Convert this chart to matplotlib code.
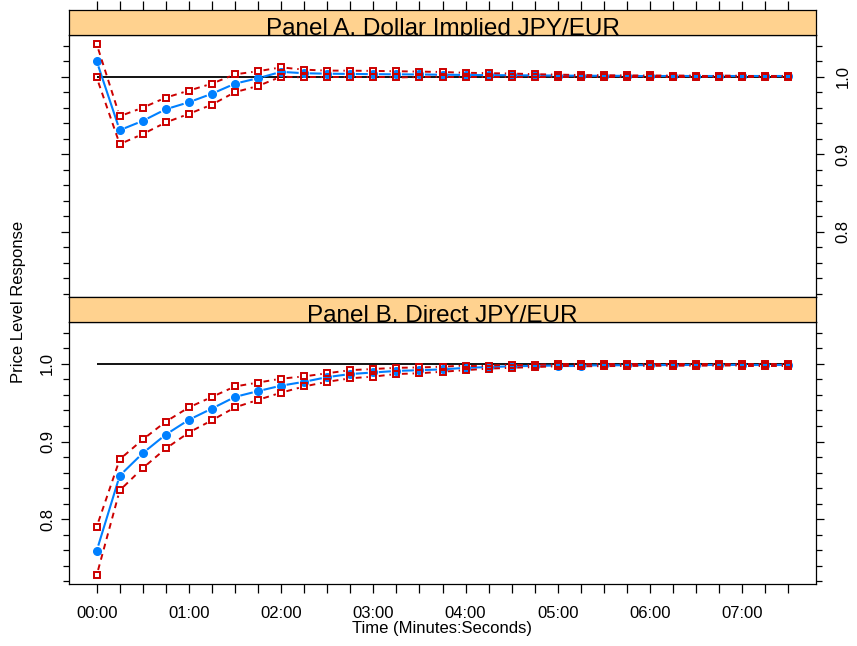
import numpy as np
import matplotlib
matplotlib.use("Agg")
import matplotlib.pyplot as plt
from matplotlib.collections import LineCollection

plt.rcParams["font.family"] = ["Liberation Sans", "DejaVu Sans"]

# time in seconds, one observation every 15 s
time_sec = np.arange(0, 451, 15)
minute_ticks = [0, 60, 120, 180, 240, 300, 360, 420]
minute_labels = ["00:00", "01:00", "02:00", "03:00", "04:00", "05:00", "06:00", "07:00"]

# Panel A: dollar implied JPY/EUR
a_mean = [1.020, 0.931, 0.943, 0.958, 0.967, 0.978, 0.991, 0.998, 1.0062, 1.0044,
          1.0038, 1.0035, 1.0032, 1.003, 1.0028, 1.0025, 1.0022, 1.002, 1.0018, 1.0016,
          1.0014, 1.0012, 1.0011, 1.001, 1.001, 1.001, 1.001, 1.001, 1.001, 1.001, 1.001]
a_upper = [1.042, 0.949, 0.960, 0.973, 0.982, 0.991, 1.003, 1.007, 1.012, 1.009,
           1.0078, 1.0077, 1.0074, 1.007, 1.0065, 1.006, 1.005, 1.0045, 1.004, 1.0032,
           1.0026, 1.0021, 1.0018, 1.0016, 1.0015, 1.0014, 1.0013, 1.0013, 1.0012, 1.0012, 1.0012]
a_lower = [0.999, 0.913, 0.926, 0.941, 0.952, 0.964, 0.980, 0.988, 1.000, 0.999,
           0.999, 0.999, 0.999, 0.999, 0.9995, 1.0, 1.0, 1.0, 1.0, 1.0,
           1.0, 1.0, 1.0, 1.0, 1.0, 1.0, 1.0, 1.0, 1.0, 1.0, 1.0]

# Panel B: direct JPY/EUR
b_mean = [0.759, 0.856, 0.885, 0.909, 0.928, 0.9425, 0.9575, 0.965, 0.972, 0.977,
          0.983, 0.987, 0.989, 0.991, 0.992, 0.993, 0.995, 0.996, 0.997, 0.9975,
          0.998, 0.998, 0.9982, 0.9984, 0.9985, 0.9986, 0.9987, 0.9987, 0.9988, 0.9988, 0.9988]
b_upper = [0.790, 0.877, 0.9026, 0.9257, 0.944, 0.9575, 0.971, 0.976, 0.981, 0.984,
           0.988, 0.992, 0.9935, 0.995, 0.9955, 0.9965, 0.998, 0.998, 0.999, 0.999,
           0.9995, 0.9995, 0.9995, 0.9995, 0.9995, 0.9995, 0.9995, 0.9995, 0.9995, 0.9995, 0.9995]
b_lower = [0.7275, 0.837, 0.8657, 0.891, 0.9116, 0.9274, 0.944, 0.9537, 0.963, 0.971,
           0.977, 0.9815, 0.9837, 0.987, 0.988, 0.990, 0.992, 0.994, 0.995, 0.996,
           0.997, 0.997, 0.9972, 0.9974, 0.9976, 0.9977, 0.9978, 0.9979, 0.998, 0.998, 0.998]

panels = [
    ("Panel A. Dollar Implied JPY/EUR", a_mean, a_upper, a_lower),
    ("Panel B. Direct JPY/EUR", b_mean, b_upper, b_lower),
]

BLUE = "#0080ff"
RED = "#cc0000"
STRIP = "#ffd28f"
XLIM = (-18, 468)
YLIM = (0.7163, 1.0537)
y_minor = np.round(np.arange(0.72, 1.041, 0.02), 2)
y_major = [0.8, 0.9, 1.0]

W, H = 857, 646
fig = plt.figure(figsize=(W / 100, H / 100), dpi=100)


def px_axes(x0, y0, x1, y1):
    return fig.add_axes([x0 / W, 1 - y1 / H, (x1 - x0) / W, (y1 - y0) / H])


def gapped_line(ax, x, y, gap=5.5, **kw):
    """Line segments that stop short of each point (like R's type='b')."""
    pts = ax.transData.transform(np.column_stack([x, y]))
    inv = ax.transData.inverted()
    segs = []
    for p, q in zip(pts[:-1], pts[1:]):
        d = q - p
        L = np.hypot(*d)
        if L <= 2 * gap + 1:
            continue
        u = d / L
        segs.append(inv.transform(np.array([p + u * gap, q - u * gap])))
    ax.add_collection(LineCollection(segs, **kw))


layout = [  # (strip top, strip bottom, panel bottom) in pixels
    (10, 35, 296.7),
    (296.7, 322.3, 584),
]

for k, ((title, mean, upper, lower), (s0, s1, p1)) in enumerate(zip(panels, layout)):
    ax = px_axes(69, s1, 816, p1)
    st = px_axes(69, s0, 816, s1)

    # strip
    st.set_facecolor(STRIP)
    st.set_xlim(XLIM)
    st.set_ylim(0, 1)
    st.set_yticks([])
    st.set_xticks(time_sec if k == 0 else [])
    st.tick_params(axis="x", top=True, bottom=False, labeltop=False, labelbottom=False,
                   direction="out", length=6.5, width=0.9)
    st.text(0.5, 0.02, title, transform=st.transAxes, ha="center", va="baseline",
            fontsize=17.5, clip_on=True)

    # panel
    ax.set_xlim(XLIM)
    ax.set_ylim(YLIM)
    ax.hlines(1.0, time_sec[0], time_sec[-1], color="black", lw=1.3, zorder=1)
    gapped_line(ax, time_sec, mean, color=BLUE, lw=1.5, zorder=2)
    ax.plot(time_sec, mean, ls="none", color=BLUE, marker="o", ms=5.5, zorder=2)
    for band in (upper, lower):
        gapped_line(ax, time_sec, band, color=RED, lw=1.4, linestyle=(0, (3, 2.5)), zorder=3)
        ax.plot(time_sec, band, ls="none", marker="s", ms=4.4,
                mfc="none", mec=RED, mew=1.4, zorder=3)

    ax.set_yticks(y_minor)
    ax.set_yticklabels([f"{v:.1f}" if v in y_major else "" for v in y_minor])
    ax.tick_params(axis="y", left=True, right=True, direction="out", length=4, width=0.9,
                   labelsize=12, labelrotation=90)
    if k == 0:
        ax.tick_params(axis="y", labelleft=False, labelright=True, pad=10)
    else:
        ax.tick_params(axis="y", labelleft=True, labelright=False, pad=6)
    for lab in ax.get_yticklabels():
        lab.set_verticalalignment("center")
    # slightly longer ticks at labelled values
    for tk, v in zip(ax.yaxis.get_major_ticks(), y_minor):
        if v in y_major:
            tk.tick1line.set_markersize(6)
            tk.tick2line.set_markersize(6)

    if k == 1:
        ax.set_xticks(time_sec)
        ax.set_xticklabels([minute_labels[minute_ticks.index(t)] if t in minute_ticks else ""
                            for t in time_sec])
        ax.tick_params(axis="x", bottom=True, top=False, direction="out", length=6.5,
                       width=0.9, labelsize=12, pad=9)
    else:
        ax.set_xticks([])

    for a in (ax, st):
        for sp in a.spines.values():
            sp.set_linewidth(0.9)

fig.text(19 / W, 1 - 302 / H, "Price Level Response", rotation=90, ha="center", va="center",
         fontsize=12)
fig.text(442 / W, 1 - 628 / H, "Time (Minutes:Seconds)", ha="center", va="center",
         fontsize=12)

fig.savefig("out.png", dpi=100)
